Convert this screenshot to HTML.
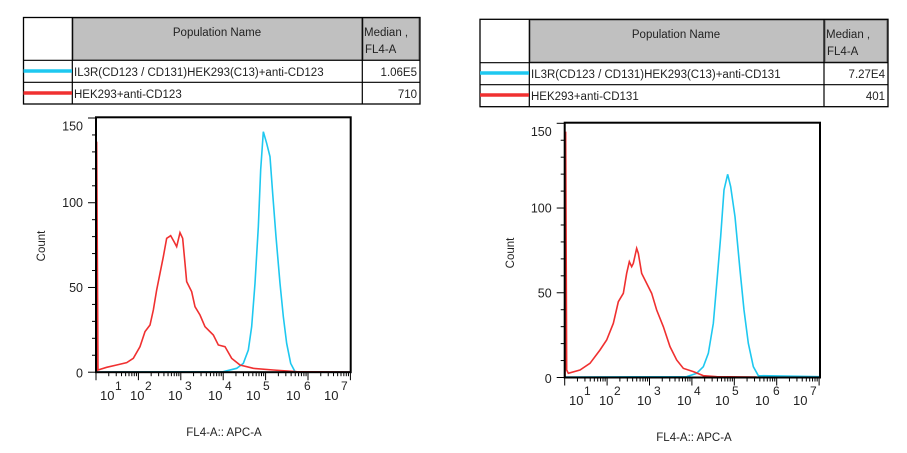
<!DOCTYPE html>
<html><head><meta charset="utf-8"><style>
html,body{margin:0;padding:0;background:#fff;width:907px;height:453px;overflow:hidden}
svg{display:block;font-family:"Liberation Sans",Arial,sans-serif}
</style></head><body>
<svg id="s" width="907" height="453" viewBox="0 0 907 453">
<rect width="907" height="453" fill="#fff"/>
<!-- LEFT TABLE -->
<g font-size="11.5" fill="#222">
<rect x="73" y="18" width="289" height="42" fill="#c0c0c0" stroke="#666" stroke-width="1"/>
<rect x="363" y="18" width="56" height="42" fill="#c0c0c0" stroke="#666" stroke-width="1"/>
<rect x="23.5" y="17.5" width="396.5" height="86.5" fill="none" stroke="#000" stroke-width="1.3"/>
<line x1="72.3" y1="17.5" x2="72.3" y2="104" stroke="#000" stroke-width="1.2"/>
<line x1="362.3" y1="17.5" x2="362.3" y2="104" stroke="#000" stroke-width="1.2"/>
<line x1="23.5" y1="60.3" x2="420" y2="60.3" stroke="#000" stroke-width="1.2"/>
<line x1="23.5" y1="82.3" x2="420" y2="82.3" stroke="#000" stroke-width="1.2"/>
<text x="217" y="36" text-anchor="middle">Population Name</text>
<text x="364" y="36">Median ,</text>
<text x="365" y="53">FL4-A</text>
<line x1="23.5" y1="71" x2="72" y2="71" stroke="#1ec8f0" stroke-width="3.5"/>
<line x1="23.5" y1="93" x2="72" y2="93" stroke="#f03030" stroke-width="3.5"/>
<text x="74" y="76">IL3R(CD123 / CD131)HEK293(C13)+anti-CD123</text>
<text x="417" y="76" text-anchor="end">1.06E5</text>
<text x="74" y="98">HEK293+anti-CD123</text>
<text x="417" y="98" text-anchor="end">710</text>
</g>
<!-- RIGHT TABLE -->
<g font-size="11.5" fill="#222">
<rect x="530" y="20" width="294" height="42" fill="#c0c0c0" stroke="#666" stroke-width="1"/>
<rect x="825" y="20" width="62" height="42" fill="#c0c0c0" stroke="#666" stroke-width="1"/>
<rect x="480" y="19.3" width="408" height="87.4" fill="none" stroke="#000" stroke-width="1.3"/>
<line x1="529.3" y1="19.3" x2="529.3" y2="106.7" stroke="#000" stroke-width="1.2"/>
<line x1="824" y1="19.3" x2="824" y2="106.7" stroke="#000" stroke-width="1.2"/>
<line x1="480" y1="62.7" x2="888" y2="62.7" stroke="#000" stroke-width="1.2"/>
<line x1="480" y1="84.7" x2="888" y2="84.7" stroke="#000" stroke-width="1.2"/>
<text x="676" y="38" text-anchor="middle">Population Name</text>
<text x="826" y="38">Median ,</text>
<text x="827" y="55">FL4-A</text>
<line x1="480" y1="73" x2="529" y2="73" stroke="#1ec8f0" stroke-width="3.5"/>
<line x1="480" y1="95" x2="529" y2="95" stroke="#f03030" stroke-width="3.5"/>
<text x="531" y="78">IL3R(CD123 / CD131)HEK293(C13)+anti-CD131</text>
<text x="885" y="78" text-anchor="end">7.27E4</text>
<text x="531" y="100">HEK293+anti-CD131</text>
<text x="885" y="100" text-anchor="end">401</text>
</g>
<!-- LEFT PLOT curves -->
<g transform="translate(20,110) scale(0.33333)" fill="none">
<polyline vector-effect="non-scaling-stroke" stroke="#1ec8f0" stroke-width="1.6" points="230,786 610,785 650,775 670,760 685,720 695,650 705,520 715,350 722,180 730,65 740,100 750,140 758,250 768,380 780,520 790,620 800,700 812,760 825,785 990,786"/>
<polyline vector-effect="non-scaling-stroke" stroke="#f03030" stroke-width="1.6" points="230,785 230,95 234,780 240,778 260,772 290,765 320,758 340,745 360,710 375,665 390,645 400,600 410,540 420,490 430,440 440,385 452,377 462,395 470,410 480,368 488,385 495,460 500,515 515,545 525,590 540,615 555,650 580,675 595,705 615,710 635,745 660,765 700,775 760,780 830,785 990,786"/>
</g>
<!-- RIGHT PLOT curves -->
<g transform="translate(470,110) scale(0.33333)" fill="none">
<polyline vector-effect="non-scaling-stroke" stroke="#1ec8f0" stroke-width="1.6" points="285,801 650,800 680,790 700,770 715,730 730,640 742,500 752,380 762,240 773,193 782,230 795,320 810,480 822,600 835,700 850,770 865,797 1048,800"/>
<polyline vector-effect="non-scaling-stroke" stroke="#f03030" stroke-width="1.6" points="285,800 287,65 290,780 295,790 330,780 360,760 390,720 410,690 430,640 445,575 460,550 470,490 478,455 485,470 490,460 500,415 505,430 515,490 530,520 545,550 560,600 580,650 600,710 620,750 640,775 670,785 700,797 740,800 860,801"/>
</g>
<g id="axes"></g>
<g font-size="11.5" fill="#222">
<text transform="translate(45,246) rotate(-90)" text-anchor="middle">Count</text>
<text transform="translate(514,253) rotate(-90)" text-anchor="middle">Count</text>
<text x="224" y="436" text-anchor="middle">FL4-A:: APC-A</text>
<text x="694" y="441" text-anchor="middle">FL4-A:: APC-A</text>
</g>
</svg>
<script>
(function(){
var NS="http://www.w3.org/2000/svg",g=document.getElementById("axes");
function el(t,a,txt){var e=document.createElementNS(NS,t);for(var k in a)e.setAttribute(k,a[k]);if(txt!=null)e.textContent=txt;g.appendChild(e);return e;}
function plot(L,R,T,B,y150,dx,dy){
 el("rect",{x:L,y:T,width:R-L,height:B-T,fill:"none",stroke:"#000","stroke-width":2});
 var s=(B-y150)/150;
 for(var v=0;v<=150;v+=10){var y=B-v*s,maj=v%50==0;
  el("line",{x1:L-(maj?8:4),y1:y,x2:L,y2:y,stroke:"#000","stroke-width":1});
  if(maj)el("text",{x:L-13,y:y+4.5+(v==150?8:0)+(v==0?1:0),"text-anchor":"end","font-size":12.5,fill:"#222"},String(v));}
 var d=42.4;
 for(var k=0;k<7;k++){var x0=L+k*d;
  el("line",{x1:x0,y1:B,x2:x0,y2:B+8,stroke:"#000","stroke-width":1});
  for(var m=2;m<10;m++){var x=x0+Math.log10(m)*d;if(x>R+0.5)break;
   el("line",{x1:x,y1:B,x2:x,y2:B+4,stroke:"#000","stroke-width":1});}}
 var bx=[100,130,168,208,246,286,324],sx=[115,145,185,225,263,304,341];
 for(var i=0;i<7;i++){
  el("text",{x:bx[i]+dx,y:400+dy,"font-size":13,fill:"#222"},"10");
  el("text",{x:sx[i]+dx,y:390+dy,"font-size":12,fill:"#222"},String(i+1));}
}
plot(96,350.7,117.3,372.2,118,0,0);
plot(564.7,820,122.7,377.5,123.3,469,5);
})();
</script>
</body></html>
